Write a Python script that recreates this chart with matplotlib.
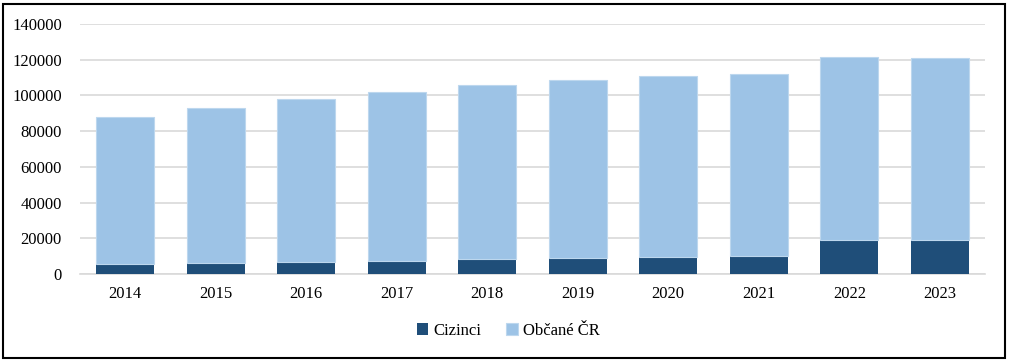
import matplotlib.pyplot as plt
from matplotlib.patches import Rectangle
import numpy as np

years = ['2014', '2015', '2016', '2017', '2018', '2019', '2020', '2021', '2022', '2023']
cizinci = [5400, 6200, 6900, 7450, 8200, 9000, 9500, 10250, 18900, 18900]
celkem = [88000, 93100, 98000, 102100, 105700, 108400, 110900, 112000, 121400, 121100]
obcane = [c - z for c, z in zip(celkem, cizinci)]

plt.rcParams['font.family'] = ['Liberation Serif', 'DejaVu Serif']

fig = plt.figure(figsize=(10.09, 3.61), dpi=100)
ax = fig.add_axes([80 / 1009, 1 - 274 / 361, 905 / 1009, 250 / 361])

x = np.arange(len(years))
ax.bar(x, cizinci, width=0.64, color='#1F4E79', label='Cizinci', zorder=3)
ax.bar(x, obcane, width=0.64, bottom=cizinci, color='#9DC3E6',
       edgecolor='#BDD7EE', linewidth=0.8, label='Občané ČR', zorder=3)

ax.set_xlim(-0.5, len(years) - 0.5)
ax.set_ylim(0, 140000)
ax.set_yticks(range(0, 140001, 20000))
ax.set_xticks(x)
ax.set_xticklabels(years)
ax.yaxis.grid(True, color='#D9D9D9', linewidth=1.2, zorder=0)
for s in ['top', 'right', 'left']:
    ax.spines[s].set_visible(False)
ax.spines['bottom'].set_color('#D9D9D9')
ax.spines['bottom'].set_linewidth(1.2)
ax.tick_params(axis='both', length=0, labelsize=12, colors='black')
ax.tick_params(axis='x', pad=9)
ax.tick_params(axis='y', pad=13)

ax.legend(loc='center', bbox_to_anchor=(508 / 1009, 1 - 331 / 361),
          bbox_transform=fig.transFigure, ncol=2, frameon=False,
          fontsize=12, handlelength=0.7, handleheight=0.7,
          handletextpad=0.3, columnspacing=1.5)

fig.patches.append(Rectangle((3 / 1009, 3 / 361), 1002 / 1009, 354 / 361,
                             transform=fig.transFigure, fill=False,
                             edgecolor='black', linewidth=1.5))

fig.savefig('out.png', dpi=100)
